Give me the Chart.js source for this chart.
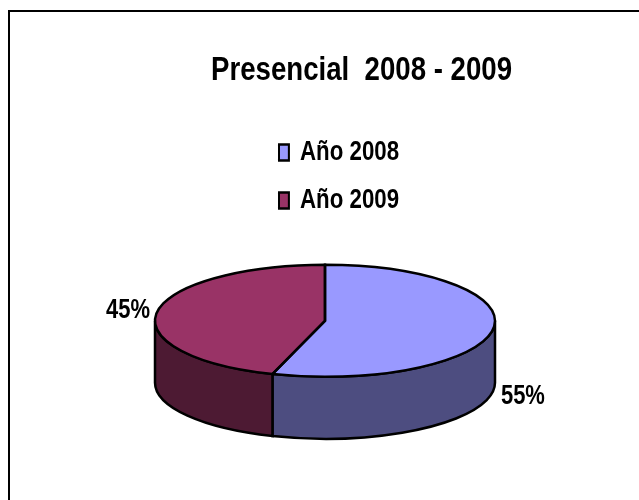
<!DOCTYPE html>
<html>
<head>
<meta charset="utf-8">
<title>Presencial 2008 - 2009</title>
<script src="https://cdn.jsdelivr.net/npm/chart.js@4"></script>
<style>
    body { margin: 0; background: #fff; }
    #wrap { position: absolute; left: 0; top: 0; width: 639px; height: 500px; }
</style>
</head>
<body>
<div id="wrap"><canvas id="pieChart" width="639" height="500"></canvas></div>
<script>
const titleText = 'Presencial  2008 - 2009';
const categories = ['Año 2008', 'Año 2009'];
const shares = [55, 45];
const shareLabels = ['55%', '45%'];
const topColors = ['#9999FF', '#993366'];
const sideColors = ['#4D4D80', '#4D1A33'];

// the reference is a tilted 3D pie: squash the round pie and add a wall below it
const tilt = 56 / 170;
const wallDepth = 62;
const outlineWidth = 2.5;
const labelOffsets = [[30, 67], [-29, -1]];
const fontFamily = '"Liberation Sans"';
// all text in the reference is condensed
const legendSqueeze = 0.825;
const legendX = 279;

function arcsOf(chart) {
    return chart.getDatasetMeta(0).data;
}

const pie3d = {
    id: 'pie3d',
    afterUpdate(chart) {
        // title box width also caps the text width, which condenses it
        chart.titleBlock.left = 211;
        chart.titleBlock.right = 512;

        const legend = chart.legend;
        const padding = legend.options.labels.padding;
        legend.left = legendX - padding;
        legend.right = 560;
        legend.top = 139 - padding;
        legend.bottom = 240;
        if (!legend.squeezed) {
            const draw = legend.draw;
            legend.draw = function () {
                const ctx = chart.ctx;
                ctx.save();
                ctx.translate(legendX, 0);
                ctx.scale(legendSqueeze, 1);
                ctx.translate(-legendX, 0);
                draw.call(legend);
                ctx.restore();
            };
            legend.squeezed = true;
        }
    },
    beforeDraw(chart) {
        // frame: only the top and left edges exist
        const ctx = chart.ctx;
        ctx.save();
        ctx.strokeStyle = '#000';
        ctx.lineWidth = 2;
        ctx.beginPath();
        ctx.moveTo(639, 11);
        ctx.lineTo(9, 11);
        ctx.lineTo(9, 500);
        ctx.stroke();
        ctx.restore();
    },
    beforeDatasetsDraw(chart) {
        const ctx = chart.ctx;
        arcsOf(chart).forEach((arc, i) => {
            const { x, y, outerRadius: r, startAngle, endAngle } = arc;
            const a0 = Math.max(startAngle, 0);
            const a1 = Math.min(endAngle, Math.PI);
            if (a1 <= a0) return;
            ctx.save();
            ctx.beginPath();
            ctx.ellipse(x, y, r, r * tilt, 0, a0, a1);
            ctx.ellipse(x, y + wallDepth, r, r * tilt, 0, a1, a0, true);
            ctx.closePath();
            ctx.fillStyle = sideColors[i];
            ctx.fill();
            ctx.strokeStyle = '#000';
            ctx.lineWidth = outlineWidth;
            ctx.stroke();
            ctx.restore();
        });
    },
    beforeDatasetDraw(chart) {
        const ctx = chart.ctx;
        const { x, y } = arcsOf(chart)[0];
        ctx.save();
        ctx.translate(x, y);
        ctx.scale(1, tilt);
        ctx.translate(-x, -y);
    },
    afterDatasetDraw(chart) {
        const ctx = chart.ctx;
        ctx.restore();
        arcsOf(chart).forEach(arc => {
            const { x, y, outerRadius: r, startAngle, endAngle } = arc;
            ctx.save();
            ctx.beginPath();
            ctx.moveTo(x, y);
            ctx.ellipse(x, y, r, r * tilt, 0, startAngle, endAngle);
            ctx.closePath();
            ctx.strokeStyle = '#000';
            ctx.lineWidth = outlineWidth;
            ctx.stroke();
            ctx.restore();
        });
    },
    afterDatasetsDraw(chart) {
        const ctx = chart.ctx;
        arcsOf(chart).forEach((arc, i) => {
            const mid = (arc.startAngle + arc.endAngle) / 2;
            const px = arc.x + arc.outerRadius * Math.cos(mid) + labelOffsets[i][0];
            const py = arc.y + arc.outerRadius * tilt * Math.sin(mid) + labelOffsets[i][1];
            ctx.save();
            ctx.font = 'bold 27px ' + fontFamily;
            ctx.fillStyle = '#000';
            ctx.textAlign = 'center';
            ctx.textBaseline = 'middle';
            ctx.fillText(shareLabels[i], px, py, 44);
            ctx.restore();
        });
    }
};

new Chart(document.getElementById('pieChart').getContext('2d'), {
    type: 'pie',
    data: {
        labels: categories,
        datasets: [{
            data: shares,
            backgroundColor: topColors,
            borderWidth: 0,
            clip: false
        }]
    },
    options: {
        responsive: false,
        animation: false,
        radius: 170,
        layout: { padding: { left: 11, right: 0, top: 0, bottom: 0 } },
        plugins: {
            tooltip: { enabled: false },
            title: {
                display: true,
                text: titleText,
                color: '#000',
                font: { family: fontFamily, size: 33, weight: 'bold' },
                padding: { top: 51, bottom: 51 }
            },
            legend: {
                position: 'chartArea',
                align: 'start',
                labels: {
                    color: '#000',
                    font: { family: fontFamily, size: 27, weight: 'bold', lineHeight: 1 },
                    boxWidth: 12,
                    boxHeight: 16,
                    padding: 21,
                    generateLabels(chart) {
                        return Chart.overrides.pie.plugins.legend.labels.generateLabels(chart).map(item => {
                            item.strokeStyle = '#000';
                            item.lineWidth = 2.5;
                            return item;
                        });
                    }
                }
            }
        }
    },
    plugins: [pie3d]
});
</script>
</body>
</html>
